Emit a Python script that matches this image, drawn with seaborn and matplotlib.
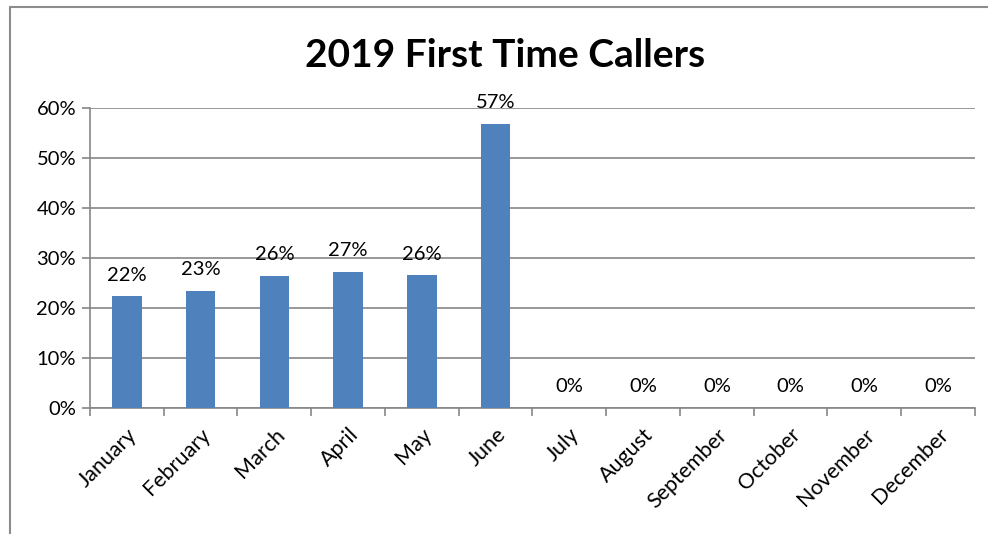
import seaborn as sns
import matplotlib.pyplot as plt
import pandas as pd
from matplotlib.ticker import PercentFormatter, FixedLocator
from matplotlib.lines import Line2D

months = ["January", "February", "March", "April", "May", "June",
          "July", "August", "September", "October", "November", "December"]
rates = [22.3, 23.4, 26.4, 27.2, 26.5, 56.8, 0, 0, 0, 0, 0, 0]
labels = ["22%", "23%", "26%", "27%", "26%", "57%",
          "0%", "0%", "0%", "0%", "0%", "0%"]

df = pd.DataFrame({"month": months, "rate": rates})

sns.set_style("white")
plt.rcParams["font.family"] = ["Lato", "DejaVu Sans"]
plt.rcParams["text.color"] = "black"
plt.rcParams["xtick.color"] = "black"
plt.rcParams["ytick.color"] = "black"

fig = plt.figure(figsize=(9.88, 5.34), dpi=100)
ax = fig.add_axes([0.0911, 0.2360, 0.8957, 0.5618])

sns.barplot(data=df, x="month", y="rate", color="#4F81BD", width=0.4,
            saturation=1, linewidth=0, ax=ax, zorder=3)

ax.set_xlim(-0.5, 11.5)
ax.set_ylim(0, 60)
ax.yaxis.set_major_locator(FixedLocator([0, 10, 20, 30, 40, 50, 60]))
ax.yaxis.set_major_formatter(PercentFormatter(decimals=0))
ax.grid(axis="y", color="#868686", linewidth=1.2, zorder=0)
ax.set_axisbelow(True)

for s in ["top", "right"]:
    ax.spines[s].set_visible(False)
for s in ["left", "bottom"]:
    ax.spines[s].set_color("#868686")
    ax.spines[s].set_linewidth(1.2)

ax.xaxis.set_minor_locator(FixedLocator([i - 0.5 for i in range(13)]))
ax.tick_params(axis="x", which="major", length=0, labelsize=15.5, pad=12,
               labelcolor="black")
ax.tick_params(axis="x", which="minor", length=6, color="#868686", width=1.2,
               direction="out", bottom=True)
ax.tick_params(axis="y", length=6, color="#868686", width=1.2, labelsize=14.5,
               left=True, pad=4, labelcolor="black")
plt.setp(ax.get_xticklabels(), rotation=45, ha="right", rotation_mode="anchor")

for i, (v, lab) in enumerate(zip(rates, labels)):
    ax.annotate(lab, (i, v), xytext=(0, 9), textcoords="offset points",
                ha="center", va="bottom", fontsize=14.5, color="black")

ax.set_xlabel("")
ax.set_ylabel("")
fig.text(0.511, 0.897, "2019 First Time Callers", ha="center", va="center",
         fontsize=28, fontweight="bold", color="black")

# chart frame
fig.add_artist(Line2D([0.0101, 0.0101], [0, 0.987], transform=fig.transFigure,
                      color="#8c8c8c", linewidth=1.5))
fig.add_artist(Line2D([0.0101, 1.0], [0.987, 0.987], transform=fig.transFigure,
                      color="#8c8c8c", linewidth=1.5))

fig.savefig("out.png", dpi=100)
plt.close()
